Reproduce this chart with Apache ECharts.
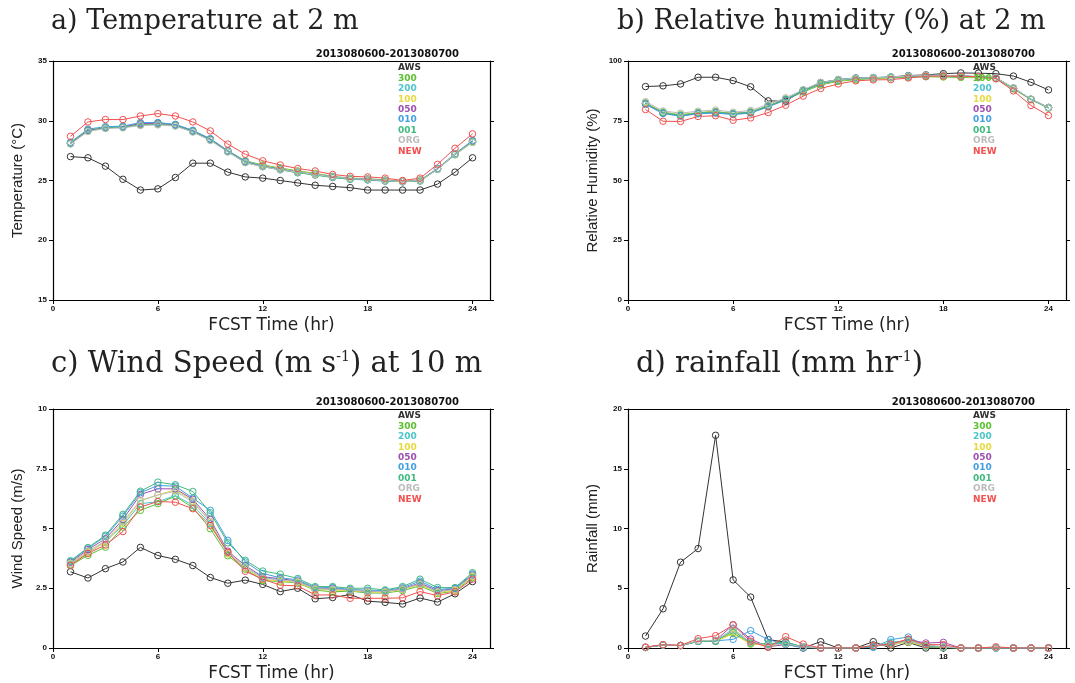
<!DOCTYPE html>
<html><head><meta charset="utf-8">
<script src="https://cdn.jsdelivr.net/npm/echarts@6/dist/echarts.min.js"></script>
<style>html,body{margin:0;padding:0;background:#fff}#c{width:1075px;height:683px}</style>
</head><body><div id="c"></div>
<script>
const hours = [1,2,3,4,5,6,7,8,9,10,11,12,13,14,15,16,17,18,19,20,21,22,23,24];
const seriesNames = ['AWS','300','200','100','050','010','001','ORG','NEW'];
const xTicks = [0,6,12,18,24];
const dateLabel = '2013080600-2013080700';

// a) Temperature
const tAWS = [27.0,26.9,26.2,25.1,24.2,24.3,25.25,26.45,26.45,25.7,25.3,25.2,25.0,24.8,24.6,24.5,24.4,24.2,24.2,24.2,24.2,24.7,25.7,26.9];
const t300 = [28.15,29.2,29.45,29.5,29.7,29.75,29.65,29.15,28.45,27.5,26.65,26.3,26.05,25.8,25.6,25.35,25.2,25.15,25.05,24.95,25.05,25.95,27.15,28.2];
const t200 = [28.1,29.2,29.4,29.5,29.75,29.8,29.6,29.1,28.4,27.45,26.55,26.2,25.9,25.65,25.5,25.25,25.1,25.05,24.95,24.9,25.0,25.95,27.2,28.25];
const t100 = [28.15,29.25,29.45,29.5,29.7,29.75,29.6,29.1,28.4,27.5,26.6,26.25,26.0,25.75,25.55,25.3,25.15,25.1,25.0,24.95,25.0,25.95,27.2,28.2];
const t050 = [28.1,29.2,29.4,29.5,29.75,29.8,29.65,29.15,28.45,27.45,26.55,26.2,25.95,25.7,25.5,25.3,25.15,25.1,25.0,24.9,25.0,26.0,27.2,28.3];
const t010 = [28.2,29.3,29.5,29.55,29.85,29.85,29.7,29.2,28.5,27.5,26.6,26.2,25.95,25.7,25.5,25.3,25.15,25.1,25.0,24.9,25.0,26.0,27.25,28.35];
const t001 = [28.1,29.15,29.4,29.45,29.65,29.7,29.6,29.1,28.4,27.4,26.5,26.15,25.9,25.65,25.45,25.25,25.1,25.05,24.95,24.9,24.95,25.95,27.2,28.25];
const tORG = [28.05,29.1,29.35,29.4,29.6,29.65,29.55,29.05,28.35,27.4,26.5,26.15,25.9,25.7,25.5,25.3,25.15,25.1,25.0,24.9,25.0,25.95,27.2,28.2];
const tNEW = [28.7,29.9,30.1,30.1,30.4,30.6,30.4,29.9,29.15,28.05,27.2,26.65,26.3,26.0,25.8,25.5,25.35,25.3,25.2,25.0,25.2,26.35,27.7,28.9];

// b) Relative humidity
const hAWS = [89.3,89.6,90.4,93.2,93.2,91.8,89.2,83.3,83.2,87.8,91.0,92.2,92.9,92.9,93.3,93.9,94.2,94.7,95.0,94.9,94.7,93.7,91.1,87.9];
const h300 = [82.3,78.6,77.5,78.4,78.9,77.8,78.5,81.0,83.8,87.0,90.0,91.5,92.2,92.6,92.9,93.2,93.4,93.3,93.1,93.0,92.6,88.3,83.8,80.3];
const h200 = [82.4,78.3,77.2,78.2,78.6,77.9,78.6,81.1,84.0,87.6,90.8,92.2,92.9,93.1,93.3,93.7,94.0,94.0,93.8,93.5,93.1,88.6,84.0,80.5];
const h100 = [82.6,78.5,77.4,78.4,78.8,78.1,78.8,81.3,84.1,87.4,90.4,91.8,92.5,92.8,93.1,93.5,93.8,93.8,93.5,93.2,92.8,88.4,83.9,80.4];
const h050 = [82.2,78.2,77.1,78.1,78.5,77.9,78.5,81.1,83.9,87.5,90.6,92.0,92.7,93.0,93.2,93.6,93.9,94.0,93.7,93.4,93.0,88.6,84.0,80.5];
const h010 = [81.8,78.0,76.9,77.9,78.2,77.6,78.2,80.8,83.7,87.4,90.6,92.1,92.8,93.0,93.3,93.7,94.0,94.0,93.7,93.4,93.0,88.6,84.0,80.6];
const h001 = [82.3,78.4,77.3,78.3,78.7,78.0,78.6,81.2,84.0,87.6,90.5,91.9,92.6,92.9,93.2,93.6,93.9,93.9,93.6,93.3,92.9,88.6,84.0,80.4];
const hORG = [83.0,79.1,78.2,79.0,79.5,78.6,79.3,81.8,84.6,88.0,91.0,92.2,92.8,93.0,93.3,93.7,94.0,94.0,93.7,93.4,93.0,88.8,84.1,80.5];
const hNEW = [79.7,74.8,74.7,76.8,77.1,75.2,76.2,78.4,81.5,85.3,88.5,90.4,91.7,92.1,92.2,92.9,93.6,93.7,93.6,93.5,92.6,87.5,81.4,77.2];

// c) Wind speed
const wAWS = [3.19,2.93,3.32,3.6,4.21,3.87,3.71,3.45,2.95,2.71,2.84,2.66,2.36,2.5,2.06,2.11,2.24,1.96,1.91,1.84,2.09,1.92,2.27,2.78];
const w300 = [3.45,3.88,4.22,5.06,5.76,6.04,6.35,5.87,4.99,3.86,3.3,2.82,2.78,2.72,2.42,2.35,2.38,2.3,2.3,2.4,2.6,2.28,2.38,2.95];
const w200 = [3.5,3.98,4.45,5.13,6.04,6.12,6.38,5.97,5.2,3.95,3.35,2.95,2.85,2.78,2.47,2.45,2.42,2.38,2.36,2.47,2.7,2.36,2.45,3.05];
const w100 = [3.52,4.0,4.43,5.2,6.15,6.41,6.62,6.15,5.27,3.95,3.35,2.88,2.8,2.75,2.45,2.42,2.4,2.35,2.33,2.45,2.65,2.32,2.4,3.0];
const w050 = [3.58,4.12,4.57,5.38,6.42,6.66,6.66,6.22,5.38,4.05,3.45,2.98,2.9,2.8,2.5,2.5,2.42,2.38,2.37,2.48,2.72,2.4,2.48,3.05];
const w010 = [3.62,4.18,4.67,5.52,6.5,6.8,6.77,6.27,5.76,4.5,3.6,3.12,2.94,2.85,2.52,2.53,2.45,2.42,2.4,2.52,2.8,2.45,2.5,3.1];
const w001 = [3.65,4.2,4.72,5.59,6.56,6.94,6.83,6.55,5.66,4.4,3.67,3.22,3.09,2.91,2.57,2.57,2.5,2.5,2.43,2.57,2.88,2.53,2.53,3.15];
const wORG = [3.55,4.05,4.48,5.28,6.18,6.4,6.56,6.1,5.3,4.0,3.38,2.92,2.85,2.78,2.48,2.46,2.42,2.38,2.36,2.47,2.68,2.35,2.45,3.02];
const wNEW = [3.46,3.96,4.31,4.87,5.9,6.13,6.1,5.83,5.13,4.0,3.21,2.88,2.63,2.6,2.22,2.22,2.08,2.08,2.08,2.1,2.36,2.19,2.35,2.88];

// d) Rainfall
const rAWS = [1.0,3.28,7.18,8.32,17.8,5.7,4.26,0.7,0.5,0,0.53,0,0,0.53,0,0.47,0,0,0,0,0,0,0,0];
const r300 = [0.05,0.26,0.21,0.55,0.56,1.3,0.33,0.3,0.4,0.08,0,0,0,0.2,0.25,0.56,0.15,0.05,0,0,0,0,0,0];
const r200 = [0.05,0.25,0.2,0.55,0.6,1.6,0.45,0.3,0.45,0.1,0,0,0,0.1,0.5,0.6,0.2,0.05,0,0,0,0,0,0];
const r100 = [0.05,0.25,0.2,0.56,0.58,1.17,0.35,0.2,0.3,0.05,0,0,0,0.18,0.28,0.5,0.18,0.05,0,0,0,0,0,0];
const r050 = [0.06,0.26,0.2,0.58,0.62,1.95,0.75,0.1,0.3,0.1,0,0,0,0.15,0.3,0.7,0.42,0.47,0,0,0.02,0,0,0];
const r010 = [0.05,0.25,0.2,0.56,0.6,0.72,1.45,0.7,0.3,0,0,0,0,0.05,0.7,0.92,0.2,0.1,0,0,0,0,0,0];
const r001 = [0.05,0.25,0.2,0.55,0.55,1.45,0.4,0.35,0.5,0.1,0,0,0,0.15,0.35,0.65,0.2,0.05,0,0,0,0,0,0];
const rORG = [0.06,0.27,0.21,0.6,0.65,1.5,0.5,0.2,0.35,0.1,0,0,0,0.2,0.3,0.6,0.25,0.1,0,0,0,0,0,0];
const rNEW = [0.08,0.28,0.22,0.78,1.03,1.92,0.56,0.05,0.95,0.33,0,0,0,0.2,0.33,0.75,0.28,0.28,0,0,0.1,0,0,0];

const colors = {AWS:'#333333','300':'#5cc030','200':'#4cc4ca','100':'#e6da40','050':'#9c50b0','010':'#42a0e0','001':'#40bb80',ORG:'#bcbcbc',NEW:'#f25050'};

const panels = [
  {title:'a) Temperature at 2 m', yName:'Temperature (\u00B0C)', min:15, max:35, interval:5,
   data:{AWS:tAWS,'300':t300,'200':t200,'100':t100,'050':t050,'010':t010,'001':t001,ORG:tORG,NEW:tNEW}},
  {title:'b) Relative humidity (%) at 2 m', yName:'Relative Humidity (%)', min:0, max:100, interval:25,
   data:{AWS:hAWS,'300':h300,'200':h200,'100':h100,'050':h050,'010':h010,'001':h001,ORG:hORG,NEW:hNEW}},
  {title:'c', yName:'Wind Speed (m/s)', min:0, max:10, interval:2.5,
   data:{AWS:wAWS,'300':w300,'200':w200,'100':w100,'050':w050,'010':w010,'001':w001,ORG:wORG,NEW:wNEW}},
  {title:'d', yName:'Rainfall (mm)', min:0, max:20, interval:5,
   data:{AWS:rAWS,'300':r300,'200':r200,'100':r100,'050':r050,'010':r010,'001':r001,ORG:rORG,NEW:rNEW}}
];

const grids = [
  {left:53, top:61, width:437, height:239},
  {left:628, top:61, width:438, height:239},
  {left:53, top:409, width:437, height:240},
  {left:628, top:409, width:438, height:240}
];

const tickFont = {fontFamily:'Liberation Sans', fontWeight:'bold', fontSize:8, color:'#111'};
const xAxis = [], yAxis = [], series = [], legend = [];
grids.forEach((g,i)=>{
  const p = panels[i];
  xAxis.push({gridIndex:i, type:'value', min:0, max:25, interval:6,
    name:'FCST Time (hr)', nameLocation:'middle', nameGap:17,
    nameTextStyle:{fontFamily:'DejaVu Sans', fontSize:17, color:'#222'},
    axisLine:{show:true, lineStyle:{color:'#000', width:1.2}},
    axisTick:{show:true, inside:false, length:4, lineStyle:{color:'#000'}},
    axisLabel:{...tickFont, margin:5, showMaxLabel:false, formatter:v=>xTicks.includes(v)?String(v):''},
    splitLine:{show:false}});
  xAxis.push({gridIndex:i, type:'value', min:0, max:25, position:'top',
    axisLine:{show:true, onZero:false, lineStyle:{color:'#000', width:1.2}},
    axisTick:{show:false}, axisLabel:{show:false}, splitLine:{show:false}});
  yAxis.push({gridIndex:i, type:'value', min:p.min, max:p.max, interval:p.interval,
    name:p.yName, nameLocation:'middle', nameGap:28,
    nameTextStyle:{fontFamily:'Liberation Sans', fontSize:15, color:'#222'},
    axisLine:{show:true, lineStyle:{color:'#000', width:1.2}},
    axisTick:{show:true, inside:false, length:4, lineStyle:{color:'#000'}},
    axisLabel:{...tickFont, margin:6},
    splitLine:{show:false}});
  yAxis.push({gridIndex:i, type:'value', min:p.min, max:p.max, interval:p.interval, position:'right',
    axisLine:{show:true, onZero:false, lineStyle:{color:'#000', width:1.2}},
    axisTick:{show:true, inside:false, length:4, lineStyle:{color:'#000'}},
    axisLabel:{show:false}, splitLine:{show:false}});
  seriesNames.forEach(n=>{
    series.push({type:'line', name:n, xAxisIndex:2*i, yAxisIndex:2*i,
      data:hours.map((h,k)=>[h, p.data[n][k]]),
      symbol:'circle', symbolSize:6.5, showSymbol:true,
      itemStyle:{color:'rgba(255,255,255,0)', borderColor:colors[n], borderWidth:1},
      lineStyle:{color:colors[n], width:1},
      emphasis:{disabled:true}, silent:true, animation:false});
  });
  legend.push({left:g.left+340, top:g.top+2, orient:'vertical', icon:'none',
    itemWidth:0, itemHeight:10, itemGap:0.4, selectedMode:false, padding:0,
    textStyle:{fontFamily:'DejaVu Sans', fontWeight:'bold', fontSize:9, lineHeight:10},
    data:seriesNames.map(n=>({name:n, textStyle:{color:colors[n]}}))});
});

const titleStyle = {fontFamily:'DejaVu Serif', fontWeight:'normal', fontSize:27, color:'#222'};
const richA = {fontFamily:'DejaVu Serif', fontWeight:'normal', fontSize:29, color:'#222', verticalAlign:'bottom'};
const richS = {fontFamily:'DejaVu Serif', fontWeight:'normal', fontSize:14, color:'#222', verticalAlign:'top'};
const titles = [
  {text:panels[0].title, left:51, top:8, padding:0, textStyle:titleStyle},
  {text:panels[1].title, left:617, top:8, padding:0, textStyle:titleStyle},
  {text:'{a|c) Wind Speed (m s}{s|-1}{a|) at 10 m}', left:51, top:350, padding:0,
   textStyle:{fontWeight:'normal', rich:{a:richA, s:richS}}},
  {text:'{a|d) rainfall (mm hr}{s|-1}{a|)}', left:636, top:350, padding:0,
   textStyle:{fontWeight:'normal', rich:{a:richA, s:richS}}}
];
const dateStyle = {fontFamily:'DejaVu Sans', fontWeight:'bold', fontSize:10, color:'#111'};
grids.forEach(g=>{
  titles.push({text:dateLabel, right:1075-(g.left+g.width)+31, top:g.top-12, padding:0, textStyle:dateStyle});
});

const chart = echarts.init(document.getElementById('c'), null, {renderer:'canvas'});
chart.setOption({animation:false, backgroundColor:'#fff', title:titles, legend:legend,
  grid:grids, xAxis:xAxis, yAxis:yAxis, series:series});
</script></body></html>
